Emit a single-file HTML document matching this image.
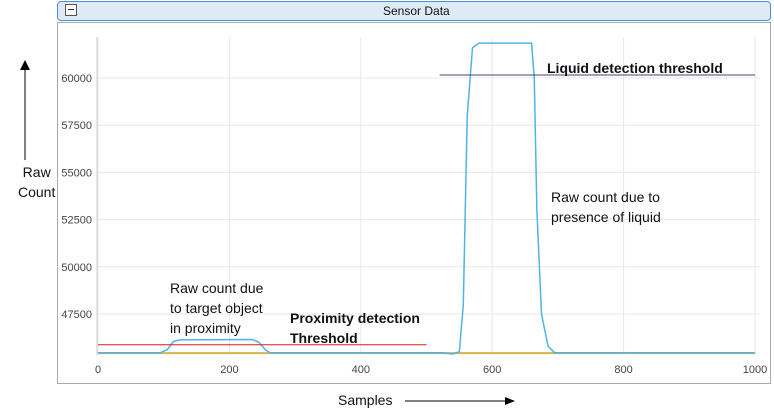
<!DOCTYPE html>
<html><head><meta charset="utf-8"><style>
body{margin:0;width:774px;height:416px;background:#fff;font-family:"Liberation Sans",sans-serif;position:relative;overflow:hidden}
.a{position:absolute}
</style></head><body>
<div class="a" style="left:57px;top:1px;width:712px;height:18px;background:#deebf7;border:1px solid #4a90d9;border-radius:4px"></div>
<div class="a" style="left:65px;top:4px;width:10px;height:10px;border:1px solid #555;background:#fff"><div style="position:absolute;left:2px;top:4px;width:6px;height:1px;background:#333"></div></div>
<div class="a" style="left:383px;top:4px;font-size:12px;color:#111">Sensor Data</div>
<div class="a" style="left:57px;top:22px;width:712px;height:360px;border:1px solid #aaa"></div>
<svg class="a" style="left:0;top:0" width="774" height="416">
<g id="grid"></g><g id="series"></g><g id="ticks"></g>
</svg>
<div class="a" style="left:18px;top:162px;font-size:14px;line-height:20px;text-align:center;color:#111">Raw<br>Count</div>
<svg class="a" style="left:18px;top:60px" width="14" height="100"><line x1="7" y1="8" x2="7" y2="100" stroke="#000"/><polygon points="7,0 2,10 12,10" fill="#000"/></svg>
<div class="a" style="left:338px;top:392px;font-size:14px;color:#111">Samples</div>
<svg class="a" style="left:405px;top:394px" width="110" height="14"><line x1="0" y1="7" x2="102" y2="7" stroke="#000"/><polygon points="110,7 100,3 100,11" fill="#000"/></svg>
<div class="a" style="left:170px;top:278px;font-size:14px;line-height:20px;color:#111">Raw count due<br>to target object<br>in proximity</div>
<div class="a" style="left:290px;top:308px;font-size:14px;line-height:20px;font-weight:bold;color:#111">Proximity detection<br>Threshold</div>
<div class="a" style="left:547px;top:60px;font-size:14px;font-weight:bold;color:#111">Liquid detection threshold</div>
<div class="a" style="left:551px;top:187px;font-size:14px;line-height:20px;color:#111">Raw count due to<br>presence of liquid</div>
<script>
const xTicks=[0,200,400,600,800,1000];
const yTicks=[47500,50000,52500,55000,57500,60000];
const sampleX=[0,95,105,115,125,235,245,255,262,525,540,550,556,562,570,580,660,664,668,675,685,695,1000];
const rawCount=[45450,45450,45600,46050,46130,46150,46000,45600,45450,45450,45380,45500,48000,58000,61600,61850,61850,60000,53000,47500,45800,45450,45450];
const baseline=45430;
const proxThreshold=45870, proxRange=[0,500];
const liquidThreshold=60160, liquidRange=[520,1000];
const X=v=>98+v*0.657, Y=v=>78+(60000-v)*47.2/2500;
const ns="http://www.w3.org/2000/svg";
function mk(p,t,a){const e=document.createElementNS(ns,t);for(const k in a)e.setAttribute(k,a[k]);document.getElementById(p).appendChild(e);return e;}
const yTop=37,yBot=355;
xTicks.forEach(t=>{const l=mk('grid','line',{x1:X(t),x2:X(t),y1:yTop,y2:yBot,stroke:'#e8e8e8'});


const tx=mk('ticks','text',{x:X(t),y:373,'text-anchor':'middle','font-size':11,fill:'#444'});tx.textContent=t;

});
yTicks.forEach(t=>{const l=mk('grid','line',{x1:98,x2:760,y1:Y(t),y2:Y(t),stroke:'#e8e8e8'});


const tx=mk('ticks','text',{x:92,y:Y(t)+4,'text-anchor':'end','font-size':11,fill:'#444'});tx.textContent=t;

});
const ax=mk('grid','line',{x1:97,x2:97,y1:yTop,y2:yBot,stroke:'#ccc'});


const bl=mk('series','line',{x1:X(0),x2:X(1000),y1:Y(baseline),y2:Y(baseline),stroke:'#d4b24c','stroke-width':2});


const pl=mk('series','polyline',{points:sampleX.map((s,i)=>X(s)+','+Y(rawCount[i])).join(' '),fill:'none',stroke:'#4fb3e8','stroke-width':1.5,'stroke-linejoin':'round'});


const pt=mk('series','line',{x1:X(proxRange[0]),x2:X(proxRange[1]),y1:Y(proxThreshold),y2:Y(proxThreshold),stroke:'#e8141c'});


const lt=mk('series','line',{x1:X(liquidRange[0]),x2:X(liquidRange[1]),y1:Y(liquidThreshold),y2:Y(liquidThreshold),stroke:'#3a4a6b'});


</script>
</body></html>
